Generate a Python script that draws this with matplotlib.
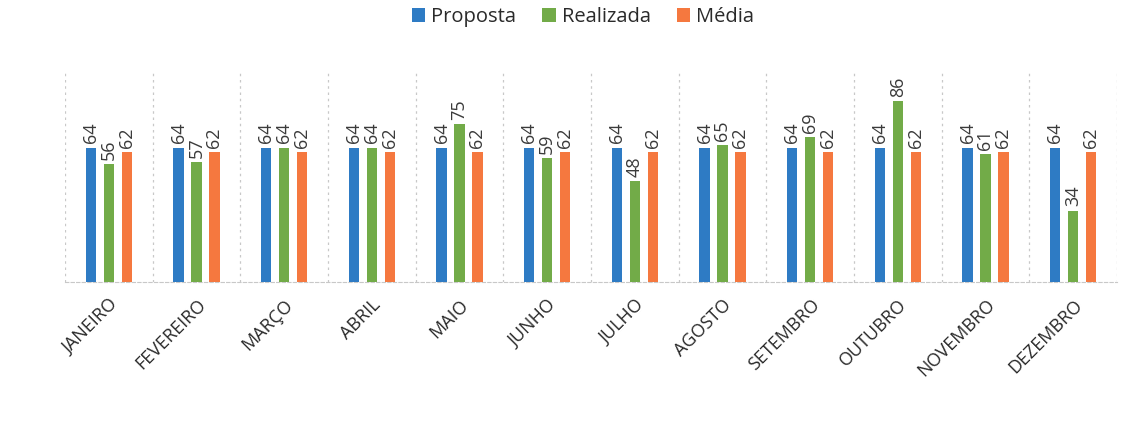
import matplotlib
matplotlib.use("Agg")
import matplotlib.pyplot as plt
import numpy as np

months = ["JANEIRO", "FEVEREIRO", "MARÇO", "ABRIL", "MAIO", "JUNHO", "JULHO",
          "AGOSTO", "SETEMBRO", "OUTUBRO", "NOVEMBRO", "DEZEMBRO"]
proposta = [64, 64, 64, 64, 64, 64, 64, 64, 64, 64, 64, 64]
realizada = [56, 57, 64, 64, 75, 59, 48, 65, 69, 86, 61, 34]
media = [62, 62, 62, 62, 62, 62, 62, 62, 62, 62, 62, 62]

series = [("Proposta", proposta, "#2E7BC4"),
          ("Realizada", realizada, "#72AB48"),
          ("Média", media, "#F5783F")]

plt.rcParams['font.family'] = ['Open Sans', 'DejaVu Sans']

fig = plt.figure(figsize=(11.31, 4.23), dpi=100)
ax = fig.add_axes([65/1131, 1-282/423, (1117-65)/1131, (282-72)/423])

x = np.arange(len(months))
width = 0.115
offsets = [-0.205, 0.0, 0.205]
for (name, vals, col), off in zip(series, offsets):
    bars = ax.bar(x + off, vals, width, color=col, label=name, zorder=3)
    for b, v in zip(bars, vals):
        ax.annotate(str(v), (b.get_x() + b.get_width()/2, b.get_height()),
                    xytext=(0, 3), textcoords="offset points",
                    rotation=90, ha="center", va="bottom",
                    fontsize=13, color="#3A3A3A")

ax.set_xlim(-0.5, len(months) - 0.5)
ax.set_ylim(0, 100)
ax.set_yticks([])
ax.set_xticks(x)
ax.set_xticklabels(months, rotation=45, ha="right", rotation_mode="anchor",
                   fontsize=13, color="#2A2A2A")
ax.tick_params(axis="x", length=0, pad=10)

for s in ["top", "right", "left"]:
    ax.spines[s].set_visible(False)
ax.spines["bottom"].set_color("#C8C8C8")
ax.spines["bottom"].set_linestyle((0, (3, 2)))

for b in np.arange(-0.5, len(months) + 0.5, 1.0):
    ax.axvline(b, color="#C8C8C8", lw=0.9, ls=(0, (2, 3)), zorder=1)

leg = fig.legend(loc="center", bbox_to_anchor=(583/1131, 1 - 17/423), ncol=3,
                 frameon=False, fontsize=14.5, handlelength=0.65, handleheight=0.65,
                 handletextpad=0.3, columnspacing=1.3)
for t in leg.get_texts():
    t.set_color("#2A2A2A")

fig.savefig("out.png", dpi=100)
